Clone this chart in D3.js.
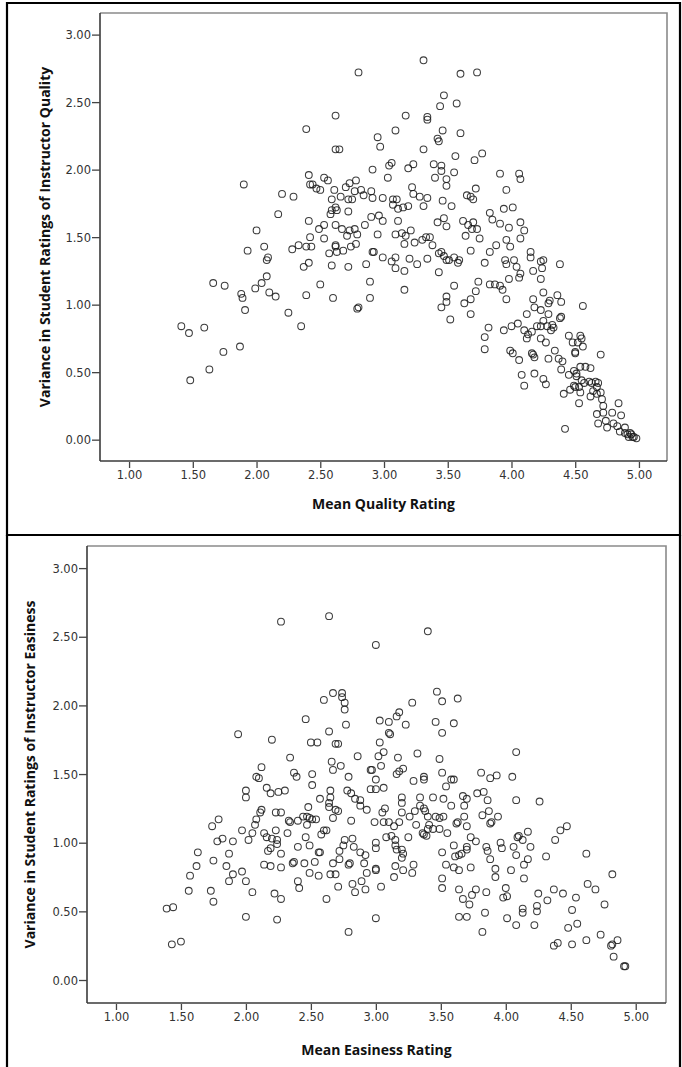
<!DOCTYPE html>
<html><head><meta charset="utf-8">
<script src="https://cdn.jsdelivr.net/npm/d3@7"></script>
<style>
html,body{margin:0;padding:0;background:#fff;}
svg{display:block;}
.tick text{font-family:"DejaVu Sans",Verdana,sans-serif;font-size:11.5px;fill:#333;}
.title{font-family:"Open Sans","Liberation Sans",sans-serif;font-weight:bold;font-size:14px;fill:#111;}
</style></head>
<body><svg id="c" width="682" height="1067"></svg>
<script>
const xTicks = [1, 1.5, 2, 2.5, 3, 3.5, 4, 4.5, 5];
const yTicks = [0, 0.5, 1, 1.5, 2, 2.5, 3];

const qualityTitles = ["Mean Quality Rating", "Variance in Student Ratings of Instructor Quality"];
const easinessTitles = ["Mean Easiness Rating", "Variance in Student Ratings of Instructor Easiness"];

// [mean quality rating, variance]
const qualityPoints = [
[1.41,0.84],[1.47,0.79],[1.48,0.44],[1.59,0.83],[1.63,0.52],[1.66,1.16],[1.74,0.65],[1.75,1.14],[1.87,0.69],[1.88,1.08],[1.89,1.05],[1.91,0.96],[1.93,1.40],[1.99,1.12],[2.04,1.16],[2.06,1.43],[2.08,1.33],[2.08,1.21],[2.10,1.09],[2.15,1.06],[2.25,0.94],[2.28,1.41],[2.33,1.44],[2.35,0.84],[2.37,1.28],[2.39,1.07],[2.39,1.43],[2.41,1.31],[2.43,1.43],[2.50,1.15],[2.57,1.38],[2.59,1.29],[2.60,1.05],[2.62,1.43],[2.63,1.39],[2.72,1.28],[2.74,1.43],[2.79,0.97],
[1.90,1.89],[2.20,1.82],[2.29,1.80],[2.17,1.67],[2.00,1.55],[2.39,2.30],[2.41,1.96],[2.42,1.89],[2.41,1.62],[2.42,1.50],[2.09,1.35],
[2.62,2.40],[3.17,2.40],[3.34,2.39],[3.34,2.37],[3.44,2.47],[3.09,2.29],[3.46,2.29],[2.95,2.24],[2.97,2.17],[3.42,2.23],[3.43,2.21],[2.62,2.15],[2.65,2.15],[3.31,2.15],[2.53,1.94],[2.56,1.92],[2.91,2.00],[3.03,1.94],[3.04,2.03],[3.06,2.05],[3.19,2.01],[3.23,2.04],[3.39,2.04],[3.45,2.03],[3.45,1.99],[3.40,1.94],[2.44,1.89],[2.47,1.86],[2.50,1.85],[2.61,1.85],[2.66,1.80],[2.59,1.78],[2.70,1.87],[2.73,1.90],[2.78,1.92],[2.72,1.78],[2.77,1.84],[2.82,1.85],[2.84,1.81],[2.90,1.84],[2.91,1.79],[2.99,1.79],[3.07,1.78],[3.10,1.78],[3.07,1.74],[3.11,1.71],[3.15,1.72],[3.19,1.73],[3.22,1.87],[3.23,1.82],[3.28,1.80],[3.31,1.73],[3.34,1.79],[3.46,1.77],[3.49,1.88],[2.59,1.70],[2.62,1.72],[2.63,1.70],[2.58,1.67],[2.72,1.69],[2.49,1.56],[2.53,1.59],[2.62,1.59],[2.67,1.56],[2.73,1.55],[2.77,1.56],[2.53,1.49],[2.71,1.51],[2.79,1.52],[2.85,1.59],[2.90,1.65],[2.96,1.66],[2.99,1.62],[2.95,1.52],[3.11,1.62],[3.09,1.52],[3.14,1.53],[3.17,1.51],[3.21,1.55],[3.16,1.45],[3.24,1.46],[3.30,1.48],[3.33,1.50],[3.36,1.50],[3.38,1.44],[3.42,1.61],[3.47,1.64],[2.62,1.44],[2.68,1.40],[2.78,1.45],[2.91,1.39],[2.92,1.39],[2.99,1.35],[3.06,1.32],[3.09,1.35],[3.09,1.27],[3.16,1.25],[3.20,1.34],[3.26,1.30],[3.34,1.34],[3.43,1.38],[3.47,1.36],[3.49,1.33],[3.43,1.24],[2.86,1.30],[2.89,1.17],[2.89,1.05],[2.80,0.98],[3.16,1.11],
[3.31,2.81],[2.80,2.72],[3.60,2.71],[3.73,2.72],[3.47,2.55],[3.57,2.49],[3.60,2.27],[3.56,2.10],[3.71,2.07],[3.77,2.12],[3.55,1.98],[3.49,1.93],[3.91,1.97],[4.06,1.97],[4.07,1.93],[2.75,1.78],[3.53,1.73],[3.49,1.58],[3.65,1.81],[3.68,1.80],[3.70,1.78],[3.72,1.86],[3.96,1.85],[3.94,1.71],[4.01,1.72],[3.83,1.68],[3.85,1.63],[3.91,1.60],[3.98,1.57],[4.07,1.61],[4.10,1.55],[4.07,1.49],[4.15,1.39],[3.96,1.48],[3.99,1.43],[3.83,1.39],[3.88,1.44],[3.62,1.62],[3.66,1.59],[3.70,1.61],[3.73,1.56],[3.75,1.49],[3.69,1.56],[3.64,1.51],[3.68,1.40],
[3.45,1.39],[3.51,1.33],[3.55,1.35],[3.58,1.31],[3.59,1.33],[3.79,1.31],[3.95,1.33],[3.96,1.30],[4.02,1.33],[4.04,1.28],[4.07,1.23],[4.06,1.20],[4.15,1.35],[4.17,1.25],[4.23,1.32],[4.25,1.33],[4.24,1.27],[4.23,1.19],[4.38,1.30],
[3.55,1.14],[3.49,1.06],[3.49,1.02],[3.45,0.98],[3.52,0.89],[3.63,1.01],[3.68,1.04],[3.72,1.10],[3.74,1.17],[3.68,0.93],[3.83,1.15],[3.87,1.15],[3.91,1.14],[3.93,1.11],[3.96,1.04],[3.98,1.19],
[3.82,0.83],[3.79,0.76],[3.79,0.67],[3.94,0.81],[4.00,0.84],[4.05,0.86],[4.12,0.93],[4.10,0.81],[4.12,0.75],[4.13,0.78],[4.16,0.80],
[4.17,1.04],[4.18,0.98],[4.23,0.96],[4.25,1.09],[4.29,1.01],[4.30,1.03],[4.29,0.93],[4.36,1.07],[4.39,1.02],[4.38,0.90],[4.39,0.91],
[4.20,0.84],[4.23,0.84],[4.25,0.88],[4.28,0.84],[4.32,0.85],[4.33,0.83],[4.31,0.81],
[3.99,0.66],[4.01,0.64],[4.06,0.59],[4.16,0.64],[4.18,0.61],[4.17,0.63],[4.23,0.75],[4.27,0.72],[4.34,0.66],[4.29,0.60],[4.37,0.60],[4.40,0.58],[4.39,0.52],
[4.08,0.48],[4.10,0.40],[4.18,0.49],[4.25,0.45],[4.27,0.41],
[4.45,0.77],[4.48,0.72],[4.54,0.77],[4.55,0.75],[4.52,0.72],[4.56,0.69],[4.50,0.65],[4.50,0.64],[4.70,0.63],[4.56,0.99],
[4.41,0.34],[4.46,0.37],[4.49,0.40],[4.45,0.48],[4.49,0.51],[4.51,0.49],[4.51,0.47],[4.54,0.54],[4.58,0.54],[4.62,0.53],[4.55,0.44],[4.57,0.42],[4.61,0.43],[4.63,0.42],[4.66,0.43],[4.68,0.42],[4.67,0.39],[4.64,0.36],[4.62,0.32],[4.67,0.34],[4.70,0.35],[4.53,0.39],[4.54,0.35],[4.53,0.27],[4.50,0.39],
[4.42,0.08],
[4.71,0.30],[4.72,0.25],[4.72,0.20],[4.67,0.19],[4.68,0.12],[4.74,0.14],[4.75,0.09],[4.79,0.20],[4.80,0.12],[4.84,0.27],[4.86,0.18],[4.83,0.10],[4.85,0.06],[4.89,0.09],[4.89,0.05],[4.91,0.04],[4.93,0.05],[4.94,0.04],[4.96,0.02],[4.98,0.01],[4.92,0.02],[4.95,0.02]
];

// [mean easiness rating, variance]
const easinessPoints = [
[2.27,2.61],[2.64,2.65],[3.00,2.44],[2.60,2.04],[2.67,2.09],[2.74,2.09],[2.74,2.06],[2.76,2.02],[2.76,1.97],[2.77,1.86],[2.46,1.90],[1.94,1.79],[2.20,1.75],[2.64,1.81],[2.50,1.73],[2.55,1.73],[2.69,1.72],[2.71,1.72],[3.03,1.89],[3.10,1.88],[3.10,1.80],[3.03,1.73],[3.06,1.66],[3.02,1.63],[3.04,1.56],[2.34,1.62],[2.86,1.63],[2.66,1.59],[2.73,1.56],[2.67,1.53],[2.12,1.55],[2.08,1.48],[2.10,1.47],[2.37,1.51],[2.39,1.48],[2.51,1.50],[2.51,1.42],[2.79,1.48],[2.96,1.53],[3.00,1.46],[2.96,1.39],[3.00,1.39],[3.06,1.40],[2.00,1.38],[2.00,1.33],[2.16,1.40],[2.19,1.36],[2.25,1.37],[2.30,1.38],[2.65,1.38],[2.78,1.38],[2.81,1.36],[2.84,1.32],[2.88,1.31],[2.93,1.24],[2.88,1.27],[2.57,1.32],[2.64,1.29],[2.64,1.26],[2.65,1.33],[2.69,1.24],[2.71,1.23],[2.48,1.26],[2.67,1.18],[2.81,1.16],[2.12,1.24],[2.08,1.17],[2.07,1.13],[2.11,1.22],[2.23,1.22],[2.27,1.22],[2.33,1.16],[2.34,1.15],[2.40,1.16],[2.44,1.19],[2.47,1.19],[2.49,1.18],[2.51,1.17],[2.54,1.17],[2.47,1.13],[2.60,1.09],[2.58,1.06],[2.62,1.09],[1.79,1.17],[1.74,1.12],[1.97,1.09],[2.02,1.02],[2.05,1.07],[1.82,1.03],[1.78,1.01],[1.90,1.01],[2.14,1.07],[2.16,1.04],[2.20,1.03],[2.23,1.09],[2.24,1.02],[2.24,0.99],[2.19,0.96],[2.17,0.94],[2.27,0.92],[2.32,1.07],[2.40,0.97],[2.46,1.04],[2.49,0.98],[2.56,0.93],[2.57,0.93],[2.67,0.85],[2.80,0.85],[2.79,0.84],[2.75,0.98],[2.76,1.02],[2.82,1.03],[2.83,0.97],[2.88,0.93],[2.92,0.91],[2.91,0.85],[3.00,1.00],[3.00,0.96],[1.63,0.93],[1.62,0.83],[1.57,0.76],[1.56,0.65],[1.75,0.87],[1.73,0.65],[1.75,0.57],[1.85,0.83],[1.87,0.92],[1.90,0.77],[1.87,0.72],[1.97,0.79],[2.00,0.72],[2.05,0.64],[2.14,0.84],[2.19,0.83],[2.27,0.82],[2.27,0.59],[2.22,0.63],[2.00,0.46],[2.24,0.44],[2.36,0.85],[2.37,0.86],[2.40,0.72],[2.41,0.67],[2.45,0.85],[2.49,0.78],[2.53,0.86],[2.56,0.76],[2.62,0.59],[2.65,0.77],[2.69,0.77],[2.71,0.68],[2.72,0.88],[2.82,0.70],[2.84,0.64],[2.89,0.72],[2.92,0.66],[2.93,0.78],[3.00,0.80],[3.04,0.68],[3.00,0.45],[2.79,0.35],[1.39,0.52],[1.44,0.53],[1.43,0.26],[1.50,0.28],[2.72,0.94],
[3.40,2.54],[3.47,2.10],[3.51,2.03],[3.63,2.05],[3.28,2.02],[3.18,1.95],[3.16,1.92],[3.23,1.86],[3.11,1.79],[3.46,1.88],[3.51,1.80],[3.60,1.87],[3.17,1.62],[3.32,1.65],[3.49,1.61],[2.97,1.53],[3.16,1.50],[3.18,1.52],[3.21,1.54],[3.29,1.45],[3.37,1.48],[3.37,1.46],[3.51,1.51],[3.58,1.46],[3.60,1.46],[3.54,1.41],[4.08,1.66],[3.81,1.51],[3.88,1.47],[3.93,1.49],[4.05,1.48],
[3.20,1.33],[3.34,1.33],[3.44,1.33],[3.52,1.32],[3.67,1.34],[3.70,1.32],[3.78,1.36],[3.83,1.37],[3.86,1.31],[4.08,1.31],[4.26,1.30],[3.34,1.27],[3.58,1.27],[3.68,1.27],[3.20,1.29],
[3.07,1.25],[3.05,1.22],[3.20,1.22],[3.26,1.19],[3.30,1.23],[3.37,1.25],[3.38,1.23],[3.40,1.19],[3.46,1.19],[3.49,1.18],[3.52,1.19],[3.63,1.15],[3.68,1.19],[3.82,1.20],[3.87,1.23],[3.89,1.15],[3.88,1.14],[3.94,1.19],
[2.99,1.15],[3.06,1.15],[3.10,1.15],[3.14,1.12],[3.18,1.15],[3.31,1.13],[3.41,1.13],[3.40,1.10],[3.44,1.10],[3.49,1.10],[3.55,1.07],[3.62,1.14],[3.70,1.12],
[3.08,1.04],[3.12,1.05],[3.15,1.02],[3.25,1.04],[3.37,1.06],[3.39,1.05],[3.36,1.07],
[3.15,0.98],[3.20,0.95],[3.21,0.92],[3.20,0.89],[3.16,0.95],[3.73,1.04],[3.77,1.01],[3.96,1.00],[4.10,1.05],[4.13,1.02],[4.17,1.08],[4.19,0.97],[4.38,1.02],[4.42,1.09],[4.47,1.12],[4.62,0.92],[4.31,0.90],
[3.60,0.98],[3.61,0.90],[3.64,0.91],[3.66,0.92],[3.70,0.95],[3.70,0.97],[3.51,0.93],[3.54,0.84],[3.60,0.82],[3.64,0.80],[3.73,0.82],[3.85,0.97],[3.86,0.94],[3.97,0.96],[4.06,0.97],[4.08,0.91],[4.09,1.04],[4.17,0.88],[4.14,0.84],[3.88,0.88],[3.92,0.81],[4.04,0.80],[4.14,0.74],
[3.00,0.81],[3.15,0.83],[3.14,0.75],[3.21,0.80],[3.28,0.78],[3.29,0.84],[3.51,0.74],[3.51,0.67],[3.64,0.66],[3.67,0.59],[3.72,0.55],[3.74,0.62],[3.77,0.66],[3.85,0.64],[3.84,0.49],[3.64,0.46],[3.70,0.46],[3.82,0.35],
[3.92,0.75],[4.00,0.67],[4.01,0.61],[3.98,0.60],
[4.01,0.45],[4.08,0.40],[4.13,0.52],[4.13,0.49],[4.22,0.40],[4.24,0.54],[4.24,0.50],[4.25,0.63],[4.32,0.58],[4.37,0.66],[4.44,0.63],[4.51,0.51],[4.54,0.60],[4.48,0.38],[4.55,0.41],[4.63,0.70],[4.69,0.66],[4.76,0.55],[4.82,0.77],[4.62,0.29],[4.51,0.26],[4.40,0.27],[4.37,0.25],[4.73,0.33],[4.81,0.25],[4.82,0.26],[4.86,0.29],[4.83,0.17],[4.91,0.10],[4.92,0.10]
];

const svg = d3.select("#c");
const fmt = d3.format(".2f");

function drawPanel(points, titles, box) {
  const x = d3.scaleLinear().domain([box.x0, box.x1]).range([box.left, box.right]);
  const y = d3.scaleLinear().domain([box.y0, box.y1]).range([box.bottom, box.top]);
  const g = svg.append("g");

  g.append("path")
    .attr("d", `M${box.left},${box.top}H${box.right}V${box.bottom}`)
    .attr("fill", "none").attr("stroke", "#8a8a8a").attr("stroke-width", 1.6);

  const xa = g.append("g").attr("transform", `translate(0,${box.bottom})`)
    .call(d3.axisBottom(x).tickValues(xTicks).tickFormat(fmt).tickSize(7).tickPadding(3).tickSizeOuter(0));
  xa.select(".domain").attr("stroke", "#3a3a3a").attr("stroke-width", 1.6)
    .attr("d", `M${box.left},0H${box.right}`);
  xa.selectAll(".tick line").attr("stroke", "#444").attr("stroke-width", 1.3).attr("y1", 1);

  const ya = g.append("g").attr("transform", `translate(${box.left},0)`)
    .call(d3.axisLeft(y).tickValues(yTicks).tickFormat(fmt).tickSize(8).tickPadding(1).tickSizeOuter(0));
  ya.select(".domain").attr("stroke", "#3a3a3a").attr("stroke-width", 1.6)
    .attr("d", `M0,${box.top}V${box.bottom}`);
  ya.selectAll(".tick line").attr("stroke", "#444").attr("stroke-width", 1.3);
  ya.selectAll(".tick text").attr("dy", "0.36em");

  g.append("g").selectAll("circle").data(points).join("circle")
    .attr("cx", d => x(d[0])).attr("cy", d => y(d[1])).attr("r", 3.4)
    .attr("fill", "none").attr("stroke", "#1a1a1a").attr("stroke-opacity", 0.85).attr("stroke-width", 1.05);

  g.append("text").attr("class", "title")
    .attr("x", (box.left + box.right) / 2).attr("y", box.xtY)
    .attr("text-anchor", "middle").text(titles[0]);
  g.append("text").attr("class", "title")
    .attr("transform", `translate(${box.ytX},${(box.top + box.bottom) / 2}) rotate(-90)`)
    .attr("text-anchor", "middle").text(titles[1]);
}

svg.append("path").attr("d", "M7,3H680V535H7Z").attr("fill", "none").attr("stroke", "#000").attr("stroke-width", 2.2);
svg.append("path").attr("d", "M7,535V1067M680,535V1067").attr("fill", "none").attr("stroke", "#000").attr("stroke-width", 2.2);

drawPanel(qualityPoints, qualityTitles,
  {x0: 0.772, x1: 5.22, y0: -0.158, y1: 3.16, left: 100, right: 667, top: 13, bottom: 461, xtY: 509, ytX: 50});
drawPanel(easinessPoints, easinessTitles,
  {x0: 0.777, x1: 5.233, y0: -0.1675, y1: 3.161, left: 87, right: 666, top: 546, bottom: 1003, xtY: 1055, ytX: 35});
</script></body></html>
